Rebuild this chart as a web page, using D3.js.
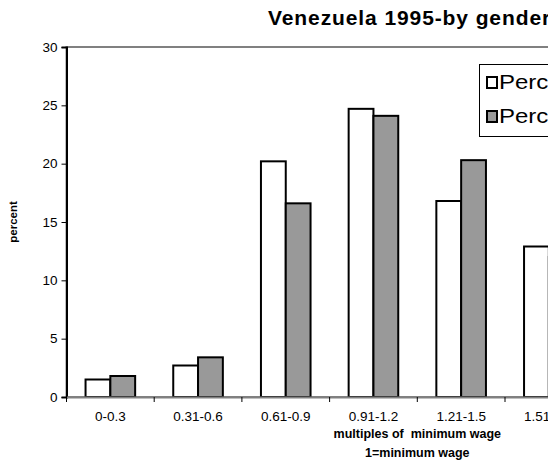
<!DOCTYPE html>
<html>
<head>
<meta charset="utf-8">
<script src="https://cdn.jsdelivr.net/npm/d3@7"></script>
<style>
  html, body { margin: 0; padding: 0; background: #fff; }
  svg { display: block; font-family: Arial, "Liberation Sans", sans-serif; }
  text { white-space: pre; }
</style>
</head>
<body>
<svg id="chart" width="548" height="466"></svg>
<script>
// ---- data ----
const categories = ["0-0.3", "0.31-0.6", "0.61-0.9", "0.91-1.2", "1.21-1.5", "1.51-1.8", "1.81-2.1", "2.11+"];
const seriesNames = ["Percent men", "Percent women"];
const menValues   = [1.5, 2.7, 20.2, 24.7, 16.8, 12.9, 8.0, 13.2];
const womenValues = [1.8, 3.4, 16.6, 24.1, 20.3, 12.0, 7.5, 14.3];
const yTicks = [0, 5, 10, 15, 20, 25, 30];
const titleText = "Venezuela 1995-by gender";
const yLabel = "percent";
const xLabel1 = "multiples of  minimum wage";
const xLabel2 = "1=minimum wage";

const fills = ["#ffffff", "#999999"];

const svg = d3.select("#chart");
const plotLeft = 66.5, plotTop = 47, plotBottom = 397;
const band = 87.7;
const plotRight = plotLeft + band * categories.length;

const x = d3.scaleBand().domain(categories).range([plotLeft, plotRight]).paddingInner(0).paddingOuter(0);
const y = d3.scaleLinear().domain([0, 30]).range([plotBottom, plotTop]);
const barW = 24.8;

// plot area border (gray)
svg.append("rect")
  .attr("x", plotLeft).attr("y", plotTop)
  .attr("width", plotRight - plotLeft).attr("height", plotBottom - plotTop)
  .attr("fill", "none").attr("stroke", "#808080").attr("stroke-width", 2);

// bars
const data = categories.map((c, i) => ({ c, vals: [menValues[i], womenValues[i]] }));
const groups = svg.append("g").selectAll("g").data(data).join("g");
groups.selectAll("rect")
  .data(d => d.vals.map((v, k) => ({ c: d.c, v, k })))
  .join("rect")
  .attr("x", d => x(d.c) + x.bandwidth() / 2 - barW + d.k * barW)
  .attr("y", d => y(d.v))
  .attr("width", barW)
  .attr("height", d => y(0) - y(d.v))
  .attr("fill", d => fills[d.k])
  .attr("stroke", "#000")
  .attr("stroke-width", 2);

// y axis
const yAxis = d3.axisLeft(y).tickValues(yTicks).tickSize(5).tickPadding(4);
const gy = svg.append("g").attr("transform", `translate(${plotLeft},0)`).call(yAxis);
gy.select(".domain").attr("stroke", "#000").attr("stroke-width", 2);
gy.selectAll(".tick line").attr("stroke", "#000");
gy.selectAll("text").attr("font-size", 13.5).attr("fill", "#000")
  .attr("font-family", "Arial, 'Liberation Sans', sans-serif");

// x axis
const xAxis = d3.axisBottom(x).tickSize(0).tickPadding(14);
const gx = svg.append("g").attr("transform", `translate(0,${plotBottom})`).call(xAxis);
gx.select(".domain").attr("stroke", "#808080").attr("stroke-width", 2);
gx.selectAll("text").attr("font-size", 13.5).attr("fill", "#000")
  .attr("font-family", "Arial, 'Liberation Sans', sans-serif");
// boundary tick marks between categories
const boundaries = categories.map((c) => x(c)).concat([plotRight]);
svg.append("g").selectAll("line").data(boundaries).join("line")
  .attr("x1", d => d).attr("x2", d => d)
  .attr("y1", plotBottom).attr("y2", plotBottom + 5)
  .attr("stroke", "#000").attr("stroke-width", 1);

// title
svg.append("text").attr("x", 268).attr("y", 25)
  .attr("text-anchor", "start").attr("font-weight", "bold").attr("font-size", 21)
  .attr("letter-spacing", 0.9)
  .text(titleText);

// y label
svg.append("text")
  .attr("transform", `translate(17,${(plotTop + plotBottom) / 2}) rotate(-90)`)
  .attr("text-anchor", "middle").attr("font-weight", "bold").attr("font-size", 11.5)
  .text(yLabel);

// x labels
const cx = (plotLeft + plotRight) / 2;
svg.append("text").attr("x", cx).attr("y", 438).attr("text-anchor", "middle")
  .attr("font-weight", "bold").attr("font-size", 12.5).text(xLabel1);
svg.append("text").attr("x", cx).attr("y", 457).attr("text-anchor", "middle")
  .attr("font-weight", "bold").attr("font-size", 12.5).text(xLabel2);

// legend
const lg = svg.append("g");
lg.append("rect").attr("x", 479.5).attr("y", 64.5).attr("width", 200).attr("height", 72)
  .attr("fill", "#fff").attr("stroke", "#000").attr("stroke-width", 1);
seriesNames.forEach((name, i) => {
  const yy = 77 + i * 34;
  lg.append("rect").attr("x", 487).attr("y", yy).attr("width", 10).attr("height", 11)
    .attr("fill", fills[i]).attr("stroke", "#000").attr("stroke-width", 2);
  lg.append("text").attr("transform", `translate(499,${yy + 12}) scale(1.2,1)`)
    .attr("font-size", 20).text(name);
});
</script>
</body>
</html>
